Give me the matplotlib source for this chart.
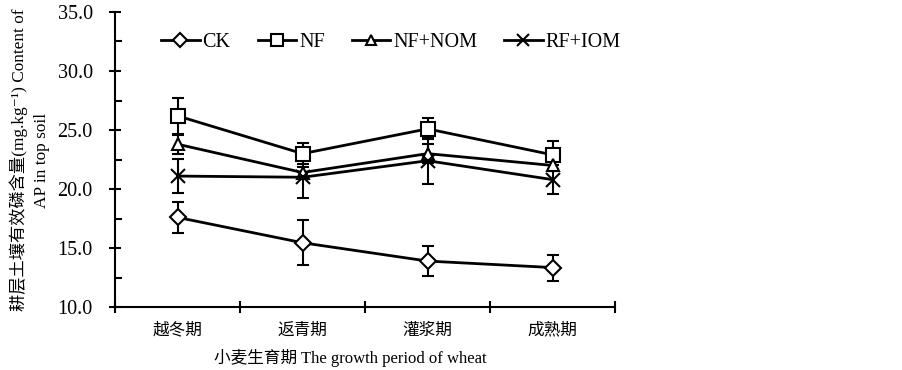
import numpy as np
import matplotlib
matplotlib.use('Agg')
import matplotlib.pyplot as plt
from matplotlib.ticker import MultipleLocator, FixedLocator
from matplotlib.lines import Line2D

plt.rcParams['font.family'] = ['Liberation Serif', 'Noto Sans CJK SC', 'DejaVu Serif']

periods = ['越冬期', '返青期', '灌浆期', '成熟期']
series = ['CK', 'NF', 'NF+NOM', 'RF+IOM']
ck = [17.6, 15.45, 13.9, 13.35]
ck_err = [1.3, 1.9, 1.25, 1.1]
nf = [26.2, 23.0, 25.1, 22.9]
nf_err = [1.5, 0.9, 0.9, 1.2]
nf_nom = [23.8, 21.4, 23.0, 22.0]
nf_nom_err = [0.8, 0.5, 0.8, 0.5]
rf_iom = [21.1, 21.0, 22.4, 20.8]
rf_iom_err = [1.45, 1.8, 2.0, 1.2]

markers = ['D', 's', '^', 'x']
sizes = [8, 10.5, 9, 10]

fig = plt.figure(figsize=(9.03, 3.70), dpi=100)
ax = fig.add_axes([0.1274, 0.170, 0.5537, 0.7976])

x = np.arange(len(periods)) + 0.5
data = [(ck, ck_err), (nf, nf_err), (nf_nom, nf_nom_err), (rf_iom, rf_iom_err)]
handles = []
for (vals, errs), name, m, s in zip(data, series, markers, sizes):
    ax.errorbar(x, vals, yerr=errs, color='black', lw=2, marker=m, ms=s,
                mfc='white', mec='black', mew=1.5, capsize=4, capthick=1.5,
                elinewidth=1.5)
    handles.append(Line2D([], [], color='black', lw=2, marker=m, ms=s * 0.85,
                          mfc='white', mec='black', mew=1.5))

ax.set_xlim(0, 4)
ax.set_ylim(10, 35)
ax.yaxis.set_major_locator(MultipleLocator(5))
ax.yaxis.set_minor_locator(MultipleLocator(2.5))
ax.yaxis.set_major_formatter(matplotlib.ticker.FormatStrFormatter('%.1f'))
ax.xaxis.set_major_locator(FixedLocator([0, 1, 2, 3, 4]))
ax.xaxis.set_minor_locator(FixedLocator(list(x)))
ax.set_xticklabels([])
ax.set_xticklabels(periods, minor=True)

ax.tick_params(axis='y', which='major', direction='inout', length=8, width=1.5, labelsize=14.5, pad=12)
ax.tick_params(axis='y', which='minor', direction='in', length=5, width=1.5)
ax.tick_params(axis='x', which='major', direction='inout', length=8, width=1.5)
ax.tick_params(axis='x', which='minor', length=0, labelsize=12, pad=11)

for side in ['top', 'right']:
    ax.spines[side].set_visible(False)
for side in ['left', 'bottom']:
    ax.spines[side].set_linewidth(1.5)

fig.text(0.388, 0.008, '小麦生育期 The growth period of wheat', ha='center', va='bottom', fontsize=12)
fig.text(0.033, 0.567, '耕层土壤有效磷含量(mg.kg⁻¹) Content of\nAP in top soil',
         rotation=90, ha='center', va='center', fontsize=12.4, linespacing=1.45)

leg = fig.legend(handles, series, loc='center', bbox_to_anchor=(0.433, 0.886), ncol=4,
                 frameon=False, fontsize=14.5, handlelength=1.9, columnspacing=1.35,
                 handletextpad=0.15)

fig.savefig('out.png', dpi=100)
